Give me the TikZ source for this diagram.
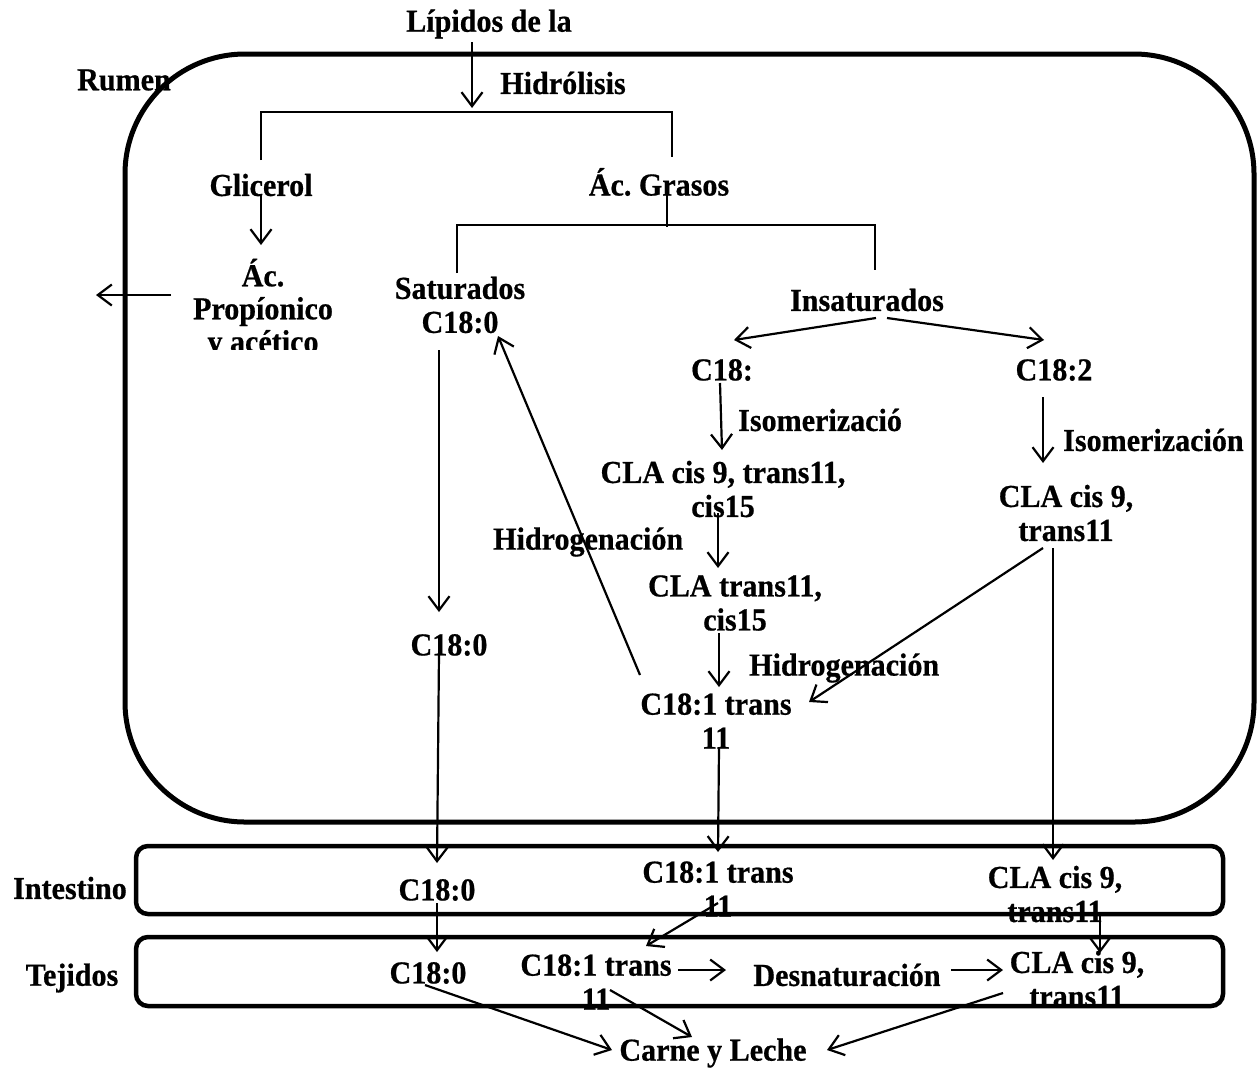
\documentclass[tikz,border=0pt]{standalone}
\usepackage{fontspec}
\setmainfont[FakeStretch=0.94,FakeBold=0.6]{Liberation Serif}
\usetikzlibrary{arrows.meta,calc}
\begin{document}
\frenchspacing
\begin{tikzpicture}[x=1pt,y=-1pt,
  t/.style={font=\fontsize{32}{34}\selectfont\bfseries, inner sep=0pt, align=center},
  arr/.style={line width=2.2pt, -{Straight Barb[length=14pt,width=21pt,line width=2.2pt]}},
  ln/.style={line width=2.2pt},
  bigbox/.style={line width=5pt, rounded corners=120pt},
  smallbox/.style={line width=4.5pt, rounded corners=12pt}]
\useasboundingbox (0,0) rectangle (1258,1072);
\clip (0,0) rectangle (1258,1072);
% boxes
\draw[bigbox] (125,54) rectangle (1254,822);
\draw[smallbox] (136,846) rectangle (1223,914);
\draw[smallbox] (136,937) rectangle (1223,1006);
% texts
\node[t] (lip) at (489,24) {Lípidos de la};
\node[t] (rumen) at (124,80) {Rumen};
\node[t] (hidro) at (563,83) {Hidrólisis};
\node[t] (glic) at (261,185) {Glicerol};
\node[t] (grasos) at (659,182) {Ác. Grasos};
\begin{scope}
\clip (150,240) rectangle (400,349);
\node[t, font=\fontsize{32}{33}\selectfont\bfseries] (prop) at (263,309) {Ác.\\Propíonico\\y acético};
\end{scope}
\node[t] (sat) at (460,305) {Saturados\\C18:0};
\node[t] (ins) at (867,300) {Insaturados};
\node[t] (c18) at (722,370) {C18:};
\node[t] (c182) at (1054,370) {C18:2};
\node[t, anchor=west] (iso1) at (738,420) {Isomerizació};
\node[t, anchor=west] (iso2) at (1063,440) {Isomerización};
\node[t] (cla1) at (723,489) {CLA cis 9, trans11,\\cis15};
\node[t] (cla2) at (1066,513) {CLA cis 9,\\trans11};
\node[t, anchor=west] (hid1) at (493,542) {Hidrogenación};
\node[t] (cla3) at (735,603) {CLA trans11,\\cis15};
\node[t, anchor=west] (hid2) at (749,668) {Hidrogenación};
\node[t] (c181) at (716,721) {C18:1 trans\\11};
\node[t] (c180r) at (449,645) {C18:0};
\node[t] (intl) at (70,888) {Intestino};
\node[t] (i180) at (437,890) {C18:0};
\node[t] (i181) at (718,889) {C18:1 trans\\11};
\node[t] (icla) at (1055,894) {CLA cis 9,\\trans11};
\node[t] (tejl) at (72,978) {Tejidos};
\node[t] (t180) at (428,973) {C18:0};
\node[t] (t181) at (596,982) {C18:1 trans\\11};
\node[t] (desn) at (847,975) {Desnaturación};
\node[t] (tcla) at (1077,979) {CLA cis 9,\\trans11};
\node[t] (carne) at (713,1053) {Carne y Leche};
\coordinate (out) at (96,295);
% brackets
\draw[ln] ($(glic)+(0,-25)$) |- ($(grasos)+(13,-70)$) -- ($(grasos)+(13,-25)$);
\draw[ln] ($(grasos)+(8,13)$) -- ($(grasos)+(8,45)$);
\draw[ln] ($(sat)+(-3,-32)$) |- ($(ins)+(8,-75)$) -- ($(ins)+(8,-30)$);
% arrows
\draw[arr] ($(lip)+(-17,18)$) -- ($(lip)+(-17,84)$);
\draw[arr] ($(glic)+(0,10)$) -- ($(prop)+(-2,-64)$);
\draw[arr] ($(prop)+(-92,-14)$) -- (out);
\draw[arr] ($(ins)+(9,18)$) -- ($(c18)+(12,-30)$);
\draw[arr] ($(ins)+(20,18)$) -- ($(c182)+(-10,-30)$);
\draw[arr] ($(c18)+(-2,13)$) -- ($(cla1)+(-1,-39)$);
\draw[arr] ($(c182)+(-11,27)$) -- ($(cla2)+(-23,-50)$);
\draw[arr] ($(cla1)+(-5,24)$) -- ($(cla3)+(-17,-35)$);
\draw[arr] ($(cla3)+(-16,30)$) -- ($(c181)+(3,-34)$);
\draw[arr] ($(c181)+(-76,-46)$) -- ($(sat)+(38,31)$);
\draw[arr] ($(cla2)+(-23,35)$) -- ($(c181)+(93,-19)$);
\draw[arr] ($(cla2)+(-13,35)$) -- ($(icla)+(-2,-34)$);
\draw[arr] ($(sat)+(-21,45)$) -- ($(c180r)+(-10,-33)$);
\draw[arr] ($(c180r)+(-10,8)$) -- ($(i180)+(0,-27)$);
\draw[arr] ($(c181)+(3,27)$) -- ($(i181)+(0,-37)$);
\draw[arr] ($(i180)+(0,13)$) -- ($(t180)+(9,-21)$);
\draw[arr] ($(i181)+(0,14)$) -- ($(t181)+(50,-36)$);
\draw[arr] ($(icla)+(45,21)$) -- ($(tcla)+(23,-26)$);
\draw[arr] ($(t181)+(82,-12)$) -- ($(desn)+(-121,-5)$);
\draw[arr] ($(desn)+(104,-5)$) -- ($(tcla)+(-74,-9)$);
\draw[arr] ($(t180)+(-3,12)$) -- ($(carne)+(-101,-3)$);
\draw[arr] ($(t181)+(14,8)$) -- ($(carne)+(-21,-16)$);
\draw[arr] ($(tcla)+(-74,14)$) -- ($(carne)+(114,-3)$);
\end{tikzpicture}
\end{document}
